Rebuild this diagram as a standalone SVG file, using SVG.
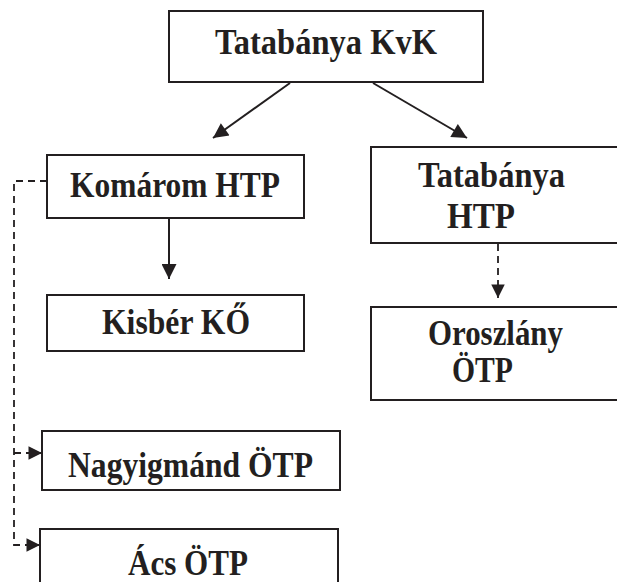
<svg xmlns="http://www.w3.org/2000/svg" width="617" height="582" viewBox="0 0 617 582">
<style>
.box{fill:#fff;stroke:#231f20;stroke-width:2}
.t{font-family:"Liberation Serif","Times New Roman",serif;font-weight:bold;font-size:35px;fill:#231f20;text-anchor:middle}
.c{fill:none;stroke:#231f20;stroke-width:2}
.d{fill:none;stroke:#231f20;stroke-width:1.8;stroke-dasharray:7 5}
</style>
<defs>
<marker id="ah" viewBox="0 0 10 10" refX="10" refY="5" markerWidth="8.5" markerHeight="7.5" markerUnits="strokeWidth" orient="auto">
<path d="M0,0 L10,5 L0,10 Z" fill="#231f20"/>
</marker>
<marker id="ahd" viewBox="0 0 10 10" refX="10" refY="5" markerWidth="8" markerHeight="7.5" markerUnits="strokeWidth" orient="auto">
<path d="M0,0 L10,5 L0,10 Z" fill="#231f20"/>
</marker>
</defs>
<g id="connectors">
<line class="c" x1="290" y1="83" x2="213" y2="138" marker-end="url(#ah)"/>
<line class="c" x1="373" y1="83" x2="467" y2="138" marker-end="url(#ah)"/>
<line class="c" x1="169" y1="219" x2="169" y2="279" marker-end="url(#ah)"/>
<line class="d" x1="498" y1="244" x2="498" y2="298" marker-end="url(#ahd)"/>
<path class="d" d="M47,181 H14 V545 H40" marker-end="url(#ahd)"/>
<path class="d" d="M14,453 H42" marker-end="url(#ahd)"/>
</g>
<g id="tatabanya-kvk">
<rect class="box" x="169" y="11" width="314" height="71"/>
<text class="t" x="326" y="54" textLength="222" lengthAdjust="spacingAndGlyphs">Tatabánya KvK</text>
</g>
<g id="komarom-htp">
<rect class="box" x="47" y="155" width="257" height="63"/>
<text class="t" x="175" y="197" textLength="210" lengthAdjust="spacingAndGlyphs">Komárom HTP</text>
</g>
<g id="tatabanya-htp">
<rect class="box" x="371" y="147" width="260" height="96"/>
<text class="t" x="491.5" y="187" textLength="147" lengthAdjust="spacingAndGlyphs">Tatabánya</text>
<text class="t" x="481" y="228" textLength="68" lengthAdjust="spacingAndGlyphs">HTP</text>
</g>
<g id="kisber-ko">
<rect class="box" x="47" y="295" width="257" height="56"/>
<text class="t" x="176" y="334" textLength="148" lengthAdjust="spacingAndGlyphs">Kisbér KŐ</text>
</g>
<g id="oroszlany-otp">
<rect class="box" x="371" y="307" width="260" height="93"/>
<text class="t" x="495.5" y="345" textLength="135" lengthAdjust="spacingAndGlyphs">Oroszlány</text>
<text class="t" x="482.5" y="382" textLength="61" lengthAdjust="spacingAndGlyphs">ÖTP</text>
</g>
<g id="nagyigmand-otp">
<rect class="box" x="42" y="431" width="298" height="59"/>
<text class="t" x="190.5" y="477" textLength="245" lengthAdjust="spacingAndGlyphs">Nagyigmánd ÖTP</text>
</g>
<g id="acs-otp">
<rect class="box" x="40" y="529" width="298" height="70"/>
<text class="t" x="188" y="575" textLength="120" lengthAdjust="spacingAndGlyphs">Ács ÖTP</text>
</g>
</svg>
